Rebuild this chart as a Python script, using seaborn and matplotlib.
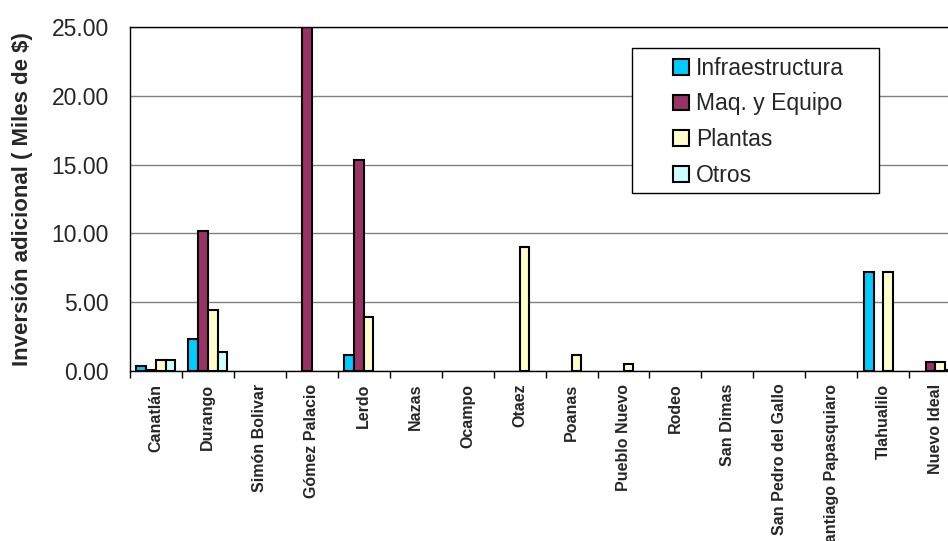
import pandas as pd
import matplotlib.pyplot as plt
import seaborn as sns
from matplotlib.patches import Patch, Rectangle
from matplotlib.ticker import FixedLocator

# --- Data (Miles de $) ---
municipios = ['Canatlán', 'Durango', 'Simón Bolivar', 'Gómez Palacio', 'Lerdo',
              'Nazas', 'Ocampo', 'Otaez', 'Poanas', 'Pueblo Nuevo', 'Rodeo',
              'San Dimas', 'San Pedro del Gallo', 'Santiago Papasquiaro',
              'Tlahualilo', 'Nuevo Ideal']
conceptos = ['Infraestructura', 'Maq. y Equipo', 'Plantas', 'Otros']

infraestructura = [0.38, 2.32, 0, 0, 1.19, 0, 0, 0, 0, 0, 0, 0, 0, 0, 7.17, 0]
maq_equipo = [0.07, 10.17, 0, 25.0, 15.33, 0, 0, 0, 0, 0, 0, 0, 0, 0, 0, 0.63]
plantas = [0.82, 4.43, 0, 0, 3.92, 0, 0, 8.99, 1.19, 0.48, 0, 0, 0, 0, 7.17, 0.63]
otros = [0.78, 1.36, 0, 0, 0, 0, 0, 0, 0, 0, 0, 0, 0, 0, 0, 0.05]

colores = ['#00CCFF', '#993366', '#FFFFCC', '#CCFFFF']


def build_chart():
    series = [infraestructura, maq_equipo, plantas, otros]
    rows = []
    for concepto, valores in zip(conceptos, series):
        for municipio, v in zip(municipios, valores):
            rows.append({'municipio': municipio, 'concepto': concepto, 'valor': v})
    df = pd.DataFrame(rows)

    sns.set_theme(style='white')
    plt.rcParams['font.family'] = ['Liberation Sans', 'DejaVu Sans']

    fig = plt.figure(figsize=(9.48, 5.41), dpi=100)
    ax = fig.add_axes([0.137, 0.3142, 0.877, 0.636])

    sns.barplot(data=df, x='municipio', y='valor', hue='concepto',
                order=municipios, hue_order=conceptos, palette=colores,
                edgecolor='black', linewidth=1.5, width=0.75, gap=0,
                saturation=1, legend=False, ax=ax)

    # empty bars are not drawn in the original
    for bar in ax.patches:
        if bar.get_height() == 0:
            bar.set_visible(False)

    # axis limits / grid
    ax.set_xlim(-0.5, len(municipios) - 0.5)
    ax.set_ylim(0, 25)
    ax.set_yticks([0, 5, 10, 15, 20, 25])
    ax.set_yticklabels([f'{v:.2f}' for v in [0, 5, 10, 15, 20, 25]])
    ax.yaxis.grid(True, color='#808080', linewidth=1)
    ax.set_axisbelow(True)

    for side in ['top', 'left', 'bottom', 'right']:
        ax.spines[side].set_visible(True)
        ax.spines[side].set_color('black')
        ax.spines[side].set_linewidth(1)

    ax.tick_params(axis='y', which='major', direction='out', length=5,
                   width=1, color='black', pad=10, labelsize=16.5)
    ax.tick_params(axis='x', which='major', length=0, pad=9)
    ax.xaxis.set_minor_locator(FixedLocator([i + 0.5 for i in range(-1, len(municipios))]))
    ax.tick_params(axis='x', which='minor', direction='out', length=5,
                   width=1, color='black', bottom=True)

    ax.set_xticks(range(len(municipios)))
    ax.set_xticklabels(municipios, rotation=90, fontsize=11.5, fontweight='bold',
                       va='top', ha='center')
    ax.set_xlabel('')
    ax.set_ylabel('Inversión adicional ( Miles de $)', fontsize=16,
                  fontweight='bold')
    ax.yaxis.set_label_coords(-0.117, 0.5)

    # legend: own frame + frameless legend inside
    frame = Rectangle((0.604, 0.517), 0.297, 0.4215, transform=ax.transAxes,
                      facecolor='white', edgecolor='black', linewidth=1,
                      zorder=4)
    ax.add_patch(frame)
    handles = [Patch(facecolor=c, edgecolor='black', linewidth=1.5, label=l)
               for c, l in zip(colores, conceptos)]
    leg = ax.legend(handles=handles, loc='upper left',
                    bbox_to_anchor=(0.653, 0.913), frameon=False,
                    fontsize=16.5, borderpad=0, borderaxespad=0,
                    handlelength=0.7, handleheight=0.68, handletextpad=0.32,
                    labelspacing=0.55)
    leg.set_zorder(5)

    fig.savefig('out.png', dpi=100)


if __name__ == '__main__':
    build_chart()
